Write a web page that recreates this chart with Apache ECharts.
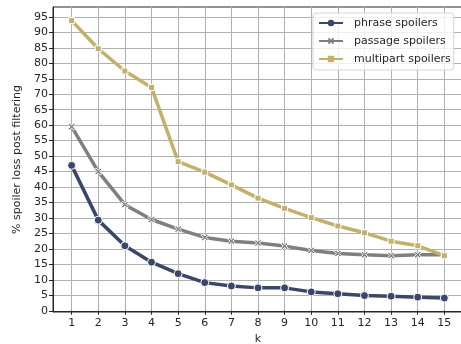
<!DOCTYPE html>
<html>
<head>
<meta charset="utf-8">
<script src="https://cdn.jsdelivr.net/npm/echarts@6/dist/echarts.min.js"></script>
<style>
  html, body { margin: 0; padding: 0; background: #fff; }
  #main { width: 461px; height: 344px; }
</style>
</head>
<body>
<div id="main"></div>
<script>
// k values and loss percentages
const kValues = [1, 2, 3, 4, 5, 6, 7, 8, 9, 10, 11, 12, 13, 14, 15];
const yTicks = [0, 5, 10, 15, 20, 25, 30, 35, 40, 45, 50, 55, 60, 65, 70, 75, 80, 85, 90, 95];
const phraseLoss = [47.0, 29.3, 21.0, 15.7, 12.0, 9.1, 8.0, 7.4, 7.4, 6.1, 5.5, 4.9, 4.7, 4.4, 4.1];
const passageLoss = [59.5, 45.0, 34.3, 29.5, 26.4, 23.7, 22.5, 21.9, 20.9, 19.5, 18.5, 18.1, 17.8, 18.1, 18.1];
const multipartLoss = [93.8, 84.7, 77.5, 72.2, 48.2, 44.8, 40.7, 36.4, 33.1, 30.1, 27.4, 25.2, 22.5, 21.0, 17.8];
const seriesNames = ["phrase spoilers", "passage spoilers", "multipart spoilers"];

const FONT = "DejaVu Sans";
const xMark = "path://M2,0L5,3L8,0L10,2L7,5L10,8L8,10L5,7L2,10L0,8L3,5L0,2Z";

const chart = echarts.init(document.getElementById("main"));

const makeSeries = (name, values, color, symbol, size) => ({
    name: name,
    type: "line",
    data: kValues.map((k, i) => [k, values[i]]),
    symbol: symbol,
    symbolSize: size,
    showSymbol: true,
    lineStyle: { color: color, width: 3.5 },
    itemStyle: { color: color, borderColor: "#fff", borderWidth: 1 },
    emphasis: { disabled: true },
    z: 3,
});

const option = {
    backgroundColor: "#fff",
    animation: false,
    textStyle: { fontFamily: FONT },
    grid: {
        left: 53, top: 7, right: -2, bottom: 32,
        outerBoundsMode: "none",
        show: true, borderColor: "#262626", borderWidth: 1,
    },
    legend: {
        left: 313, top: 13,
        orient: "vertical",
        itemWidth: 24, itemHeight: 8, itemGap: 6,
        padding: [4, 3, 5, 5],
        backgroundColor: "rgba(255,255,255,0.8)",
        borderColor: "#d6d6d6", borderWidth: 1, borderRadius: 3,
        textStyle: { fontFamily: FONT, fontSize: 11, color: "#262626", lineHeight: 12, padding: [0, 0, 0, 6] },
        itemStyle: { borderWidth: 0 },
        lineStyle: { width: 2 },
        data: seriesNames,
    },
    xAxis: {
        type: "value",
        min: 0.3, max: 15.7,
        name: "k",
        nameLocation: "middle",
        nameGap: 22,
        nameTextStyle: { fontFamily: FONT, fontSize: 11, color: "#262626" },
        axisLine: { show: true, lineStyle: { color: "#262626", width: 1 } },
        axisTick: { show: true, length: 4, customValues: kValues, lineStyle: { color: "#262626" } },
        axisLabel: { color: "#262626", fontSize: 11, fontFamily: FONT, margin: 6, customValues: kValues },
        splitLine: { show: true, lineStyle: { color: "#b0b0b0", width: 1 } },
    },
    yAxis: {
        type: "value",
        min: -0.4, max: 98.2,
        name: "% spoiler loss post filtering",
        nameLocation: "middle",
        nameGap: 23,
        nameTextStyle: { fontFamily: FONT, fontSize: 11, color: "#262626" },
        axisLine: { show: true, lineStyle: { color: "#262626", width: 1 } },
        axisTick: { show: true, length: 4, customValues: yTicks, lineStyle: { color: "#262626" } },
        axisLabel: { color: "#262626", fontSize: 11, fontFamily: FONT, margin: 5, customValues: yTicks },
        splitLine: { show: true, lineStyle: { color: "#b0b0b0", width: 1 } },
    },
    series: [
        makeSeries(seriesNames[0], phraseLoss, "#3b4668", "circle", 8),
        makeSeries(seriesNames[1], passageLoss, "#7f7f7f", xMark, 7),
        makeSeries(seriesNames[2], multipartLoss, "#c2b16b", "rect", 6),
    ],
};

chart.setOption(option);
</script>
</body>
</html>
